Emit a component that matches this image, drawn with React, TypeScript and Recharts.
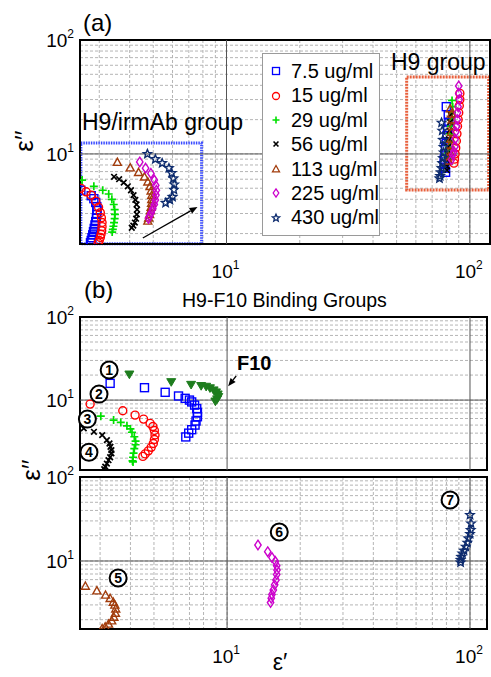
import React from "react";
import {
  CartesianGrid,
  Legend,
  ReferenceArea,
  ReferenceDot,
  ReferenceLine,
  Scatter,
  ScatterChart,
  XAxis,
  YAxis,
} from "recharts";

// Dielectric loss (ε'') vs permittivity (ε'), log-log, two panels.

type Pt = [number, number];
type Kind = "square" | "circle" | "plus" | "x" | "triUp" | "triDown" | "diamond" | "star";

const FONT = '"Liberation Sans", Arial, Helvetica, sans-serif';

const concentrations = ["7.5 ug/ml", "15 ug/ml", "29 ug/ml", "56 ug/ml", "113 ug/ml", "225 ug/ml", "430 ug/ml"];

// panel (a) – H9/irmAb group (left cluster), [ε', ε'']
const irm7_5: Pt[] = [[2.52, 4.8], [2.78, 4.3], [2.85, 4.05], [2.9, 3.75], [2.93, 3.45], [2.94, 3.2], [2.93, 2.95], [2.92, 2.75], [2.9, 2.55], [2.88, 2.38], [2.86, 2.22], [2.84, 2.08], [2.82, 1.95], [2.8, 1.84], [2.78, 1.74], [2.76, 1.66]];
const irm15: Pt[] = [[2.52, 5.0], [2.65, 4.65], [2.78, 4.35], [2.9, 3.85], [2.98, 3.4], [3.03, 3.05], [3.06, 2.75], [3.08, 2.5], [3.08, 2.3], [3.07, 2.12], [3.05, 1.97], [3.03, 1.85], [3.0, 1.74], [2.97, 1.66]];
const irm29: Pt[] = [[2.55, 5.9], [2.85, 5.2], [3.1, 4.8], [3.28, 4.45], [3.38, 4.0], [3.44, 3.6], [3.47, 3.25], [3.48, 2.95], [3.47, 2.7], [3.45, 2.5], [3.43, 2.32], [3.41, 2.18], [3.39, 2.06]];
const irm56: Pt[] = [[3.45, 6.3], [3.62, 6.0], [3.78, 5.6], [3.93, 5.2], [4.05, 4.8], [4.15, 4.35], [4.22, 3.95], [4.27, 3.6], [4.29, 3.25], [4.28, 2.95], [4.25, 2.7], [4.2, 2.5], [4.14, 2.35], [4.08, 2.25]];
const irm113: Pt[] = [[3.56, 8.46], [4.02, 7.58], [4.35, 6.9], [4.6, 6.3], [4.75, 5.7], [4.85, 5.2], [4.9, 4.75], [4.93, 4.35], [4.93, 4.0], [4.92, 3.7], [4.9, 3.42], [4.87, 3.18], [4.83, 2.95], [4.79, 2.75], [4.75, 2.58]];
const irm225: Pt[] = [[4.4, 8.5], [4.65, 7.5], [4.89, 6.75], [5.05, 5.9], [5.12, 5.3], [5.15, 4.8], [5.13, 4.35], [5.1, 3.95], [5.05, 3.6], [4.98, 3.3], [4.9, 3.05], [4.83, 2.85], [4.78, 2.72]];
const irm430: Pt[] = [[4.73, 10.0], [5.1, 9.0], [5.44, 8.3], [5.8, 7.5], [5.95, 6.8], [6.05, 6.1], [6.1, 5.4], [6.08, 4.85], [6.0, 4.2], [5.85, 3.95], [5.62, 3.72]];

// panel (a) – H9 group (right cluster)
const h9_7_5: Pt[] = [[80, 26], [81.5, 22], [82, 19], [81, 16.5], [80.5, 14.5], [80, 12.8], [79.5, 11.3], [79, 10], [78.5, 9], [78.5, 8.2], [79, 7.5], [79.5, 6.9]];
const h9_15: Pt[] = [[91, 34], [91, 30], [90.5, 26.5], [90, 23], [89.5, 20], [89, 17.5], [88.5, 15], [88, 13], [87.5, 11.3], [87, 10], [86.5, 9], [86, 8.3]];
const h9_29: Pt[] = [[84.5, 29.5], [85, 26], [84.5, 23], [84, 20], [83.5, 17.5], [83, 15], [82.5, 13], [82, 11.5], [81.5, 10.2], [81, 9.2]];
const h9_56: Pt[] = [[83.5, 22], [83, 19], [82.5, 16], [82, 13.5], [81.5, 11.5], [81, 10], [80.8, 8.8], [80.5, 7.8], [80.5, 7.2]];
const h9_113: Pt[] = [[83, 25], [84, 22.5], [84.5, 20], [84.5, 17.5], [84, 15.5], [83.5, 13.5], [83, 12], [82.5, 10.5], [82, 9.5], [81.5, 8.7]];
const h9_225: Pt[] = [[90, 39.5], [90, 34], [90.5, 30], [89.5, 26], [89, 23], [88.8, 20], [88.3, 17.5], [87.5, 15.6], [87, 13.5], [86.8, 11.6], [86, 10.5], [85, 9.8], [84, 8.9]];
const h9_430: Pt[] = [[76.5, 18.8], [77, 16], [77.5, 13.3], [78, 11.5], [78, 10.3], [77.5, 9.2], [77, 8.3], [76.5, 7.5], [76, 6.9], [75.5, 6.4], [75, 6.1]];

// panel (b) – binding groups 1..7 and F10
const grp1: Pt[] = [[3.3, 15.9], [4.57, 14.1], [5.56, 12.4], [6.31, 11.2], [6.72, 10.5], [7.0, 10.0], [7.15, 9.5], [7.35, 8.7], [7.5, 7.9], [7.55, 7.1], [7.55, 6.3], [7.45, 5.6], [7.38, 5.0], [7.15, 4.4], [6.95, 4.0], [6.76, 3.6]];
const f10: Pt[] = [[3.96, 20.5], [5.89, 16.6], [7.11, 15.4], [7.82, 14.9], [8.2, 14.6], [8.5, 14.0], [8.8, 13.2], [9.0, 12.5], [9.15, 11.8], [9.2, 11.0], [9.1, 10.3], [8.95, 9.7]];
const grp2: Pt[] = [[2.73, 8.95], [3.72, 7.43], [4.18, 6.59], [4.53, 5.9], [4.82, 5.24], [4.95, 4.8], [5.02, 4.3], [5.05, 3.8], [5.02, 3.35], [4.97, 3.0], [4.87, 2.7], [4.74, 2.45], [4.6, 2.25], [4.5, 2.1]];
const grp3: Pt[] = [[2.77, 6.59], [3.02, 6.4], [3.41, 5.74], [3.65, 5.39], [3.87, 4.9], [4.0, 4.5], [4.06, 4.1], [4.15, 3.62], [4.2, 3.2], [4.2, 2.9], [4.15, 2.6], [4.12, 2.3], [4.1, 2.05], [4.08, 1.85], [4.1, 1.8]];
const grp4: Pt[] = [[2.57, 4.56], [2.83, 4.15], [3.06, 3.79], [3.2, 3.3], [3.28, 3.0], [3.31, 2.74], [3.34, 2.5], [3.34, 2.28], [3.3, 2.05], [3.25, 1.89], [3.2, 1.72], [3.15, 1.58], [3.12, 1.47]];
const grp5: Pt[] = [[2.61, 5.04], [2.91, 4.43], [3.16, 3.94], [3.3, 3.6], [3.4, 3.25], [3.45, 3.0], [3.48, 2.7], [3.47, 2.4], [3.42, 2.15], [3.35, 1.95], [3.25, 1.78], [3.15, 1.65], [3.06, 1.57]];
const grp6: Pt[] = [[13.4, 15.5], [14.7, 12.9], [15.3, 11.0], [15.8, 9.9], [16.0, 8.8], [16.05, 7.8], [16.0, 6.9], [15.9, 5.94], [15.7, 5.2], [15.5, 4.52], [15.3, 4.0], [15.2, 3.6], [15.1, 3.2]];
const grp7: Pt[] = [[100, 35.3], [101, 28], [100.7, 23.4], [100, 21], [98.5, 18.6], [97.5, 16.5], [96, 14.8], [94.5, 13.3], [93, 12.3], [92, 11.2], [91.5, 10.3], [91.5, 9.6]];

// axes
const xTicks = [3, 4, 5, 6, 7, 8, 9, 10, 20, 30, 40, 50, 60, 70, 80, 90, 100];
const yTicks = [2, 3, 4, 5, 6, 7, 8, 9, 10, 20, 30, 40, 50, 60, 70, 80, 90, 100];
const xDomA: [number, number] = [2.5, 121];
const yDomA: [number, number] = [1.62, 100];
const xDomB: [number, number] = [2.48, 117.5];
const yDomB1: [number, number] = [1.44, 100];
const yDomB2: [number, number] = [1.55, 100];

const BLUE = "#0000ff";
const RED = "#ff0000";
const GREEN = "#00e000";
const BLACK = "#000000";
const BROWN = "#a23c0c";
const MAGENTA = "#cc00cc";
const NAVY = "#0d2b6e";
const DKGREEN = "#1e7d1e";

const styles: { kind: Kind; color: string }[] = [
  { kind: "square", color: BLUE },
  { kind: "circle", color: RED },
  { kind: "plus", color: GREEN },
  { kind: "x", color: BLACK },
  { kind: "triUp", color: BROWN },
  { kind: "diamond", color: MAGENTA },
  { kind: "star", color: NAVY },
];

const toXY = (a: Pt[]) => a.map(([x, y]) => ({ x, y }));

const irmSets = [irm7_5, irm15, irm29, irm56, irm113, irm225, irm430];
const h9Sets = [h9_7_5, h9_15, h9_29, h9_56, h9_113, h9_225, h9_430];
const aSeries = concentrations.map((name, i) => ({
  name,
  ...styles[i],
  data: toXY([...irmSets[i], ...h9Sets[i]]),
}));

function Marker({ kind, cx, cy, size, color, sw = 1.4 }: { kind: Kind; cx: number; cy: number; size: number; color: string; sw?: number }) {
  const h = size / 2;
  const line = { stroke: color, strokeWidth: sw, fill: "none" };
  switch (kind) {
    case "square":
      return <rect x={cx - h} y={cy - h} width={size} height={size} {...line} />;
    case "circle":
      return <circle cx={cx} cy={cy} r={h} {...line} />;
    case "plus":
      return <path d={`M${cx - h},${cy}H${cx + h}M${cx},${cy - h}V${cy + h}`} {...line} strokeWidth={sw + 0.3} />;
    case "x": {
      const k = h * 0.7;
      return <path d={`M${cx - k},${cy - k}L${cx + k},${cy + k}M${cx - k},${cy + k}L${cx + k},${cy - k}`} {...line} strokeWidth={sw + 0.3} />;
    }
    case "triUp":
      return <path d={`M${cx},${cy - h}L${cx + h},${cy + h * 0.8}L${cx - h},${cy + h * 0.8}Z`} {...line} />;
    case "triDown":
      return <path d={`M${cx - h},${cy - h * 0.7}L${cx + h},${cy - h * 0.7}L${cx},${cy + h}Z`} fill={color} stroke={color} />;
    case "diamond":
      return <path d={`M${cx},${cy - h * 1.2}L${cx + h * 0.8},${cy}L${cx},${cy + h * 1.2}L${cx - h * 0.8},${cy}Z`} {...line} />;
    case "star": {
      const R = h * 1.1;
      const pts = Array.from({ length: 10 }, (_, k) => {
        const r = k % 2 === 0 ? R : R * 0.45;
        const a = (-90 + k * 36) * (Math.PI / 180);
        return `${cx + r * Math.cos(a)},${cy + r * Math.sin(a)}`;
      });
      return <polygon points={pts.join(" ")} {...line} />;
    }
  }
  return null;
}

function PowTick(props: any) {
  const { x, y, payload, axis } = props;
  const e = Math.log10(payload.value);
  if (Math.abs(e - Math.round(e)) > 1e-6) return <g />;
  const txt = { fontFamily: FONT, fontSize: 19, fill: "#000" };
  if (axis === "x") {
    return (
      <text x={x - 1} y={y + 26} textAnchor="middle" {...txt}>
        10<tspan dy={-9} fontSize={12}>{Math.round(e)}</tspan>
      </text>
    );
  }
  return (
    <text x={x + 2} y={y + 7} textAnchor="end" {...txt}>
      10<tspan dy={-9} fontSize={12}>{Math.round(e)}</tspan>
    </text>
  );
}

function Arrow(p: any) {
  const { x1, y1, x2, y2 } = p;
  const a = Math.atan2(y2 - y1, x2 - x1);
  const L = 8;
  const W = 3.2;
  const bx = x2 - L * Math.cos(a);
  const by = y2 - L * Math.sin(a);
  const nx = -Math.sin(a) * W;
  const ny = Math.cos(a) * W;
  return (
    <g>
      <line x1={x1} y1={y1} x2={bx} y2={by} stroke="#000" strokeWidth={1.3} />
      <polygon points={`${x2},${y2} ${bx + nx},${by + ny} ${bx - nx},${by - ny}`} fill="#000" />
    </g>
  );
}

function Circled({ cx, cy, n }: { cx: number; cy: number; n: number }) {
  return (
    <g>
      <circle cx={cx} cy={cy} r={8.5} fill="#fff" stroke="#000" strokeWidth={2} />
      <text x={cx} y={cy + 5} textAnchor="middle" fontFamily={FONT} fontSize={14} fontWeight="bold">
        {n}
      </text>
    </g>
  );
}

// legend keeps the concentration order (Recharts sorts payload by name)
function LegendBox() {
  return (
    <div
      style={{
        border: "1px solid #9a9a9a",
        background: "#fff",
        width: 116,
        padding: "5px 0 5px 0",
        fontFamily: FONT,
        fontSize: 20,
        lineHeight: "24.4px",
      }}
    >
      {aSeries.map((s) => (
        <div key={s.name} style={{ display: "flex", alignItems: "center", height: 24.4 }}>
          <svg width={28} height={20} style={{ flex: "none" }}>
            <Marker kind={s.kind} cx={13} cy={10} size={7} color={s.color} sw={1.3} />
          </svg>
          <span style={{ whiteSpace: "nowrap" }}>{s.name}</span>
        </div>
      ))}
    </div>
  );
}

function frame(xd: [number, number], yd: [number, number]) {
  return (
    <ReferenceArea x1={xd[0]} x2={xd[1]} y1={yd[0]} y2={yd[1]} fill="none" stroke="#000" strokeWidth={2} ifOverflow="visible" />
  );
}

function majors() {
  return [
    <ReferenceLine key="vx10" x={10} stroke="#555" strokeWidth={1} />,
    <ReferenceLine key="vx100" x={100} stroke="#555" strokeWidth={1} />,
    <ReferenceLine key="hy10" y={10} stroke="#555" strokeWidth={1} />,
  ];
}

const gridProps = { stroke: "#b5b5b5", strokeDasharray: "3 2", strokeWidth: 1 };

function ChartA() {
  return (
    <ScatterChart width={491} height={290} margin={{ top: 40, right: 1, bottom: 6, left: 0 }}>
      <CartesianGrid {...gridProps} />
      {majors()}
      <XAxis
        type="number"
        dataKey="x"
        scale="log"
        domain={xDomA}
        allowDataOverflow
        ticks={xTicks}
        interval={0}
        height={40}
        axisLine={false}
        tickLine={false}
        tick={(p: any) => <PowTick {...p} axis="x" />}
      />
      <YAxis
        type="number"
        dataKey="y"
        scale="log"
        domain={yDomA}
        allowDataOverflow
        ticks={yTicks}
        interval={0}
        width={80}
        axisLine={false}
        tickLine={false}
        tick={(p: any) => <PowTick {...p} axis="y" />}
      />
      <ReferenceArea x1={2.52} x2={7.9} y1={1.63} y2={12.5} fill="none" stroke="#3b4cff" strokeWidth={3} strokeDasharray="1.5 1" ifOverflow="visible" />
      <ReferenceArea x1={55} x2={119.5} y1={4.83} y2={47.3} fill="none" stroke="#e8603c" strokeWidth={3} strokeDasharray="2 1" ifOverflow="visible" />
      {aSeries.map((s) => (
        <Scatter
          key={s.name}
          name={s.name}
          data={s.data}
          fill={s.color}
          isAnimationActive={false}
          shape={(p: any) => <Marker kind={s.kind} cx={p.cx} cy={p.cy} size={8} color={s.color} />}
        />
      ))}
      <ReferenceLine
        segment={[
          { x: 4.53, y: 1.83 },
          { x: 7.6, y: 3.43 },
        ]}
        ifOverflow="visible"
        shape={(p: any) => <Arrow {...p} />}
      />
      {frame(xDomA, yDomA)}
      <Legend
        layout="vertical"
        align="center"
        verticalAlign="middle"
        content={<LegendBox />}
        wrapperStyle={{ left: 262, top: 53, width: 118 }}
      />
    </ScatterChart>
  );
}

const bTopSeries = [
  { name: "1", kind: "square" as Kind, color: BLUE, data: toXY(grp1) },
  { name: "F10", kind: "triDown" as Kind, color: DKGREEN, data: toXY(f10) },
  { name: "2", kind: "circle" as Kind, color: RED, data: toXY(grp2) },
  { name: "3", kind: "plus" as Kind, color: GREEN, data: toXY(grp3) },
  { name: "4", kind: "x" as Kind, color: BLACK, data: toXY(grp4) },
];
const bBotSeries = [
  { name: "5", kind: "triUp" as Kind, color: BROWN, data: toXY(grp5) },
  { name: "6", kind: "diamond" as Kind, color: MAGENTA, data: toXY(grp6) },
  { name: "7", kind: "star" as Kind, color: NAVY, data: toXY(grp7) },
];

function logX(showLabels: boolean) {
  return (
    <XAxis
      type="number"
      dataKey="x"
      scale="log"
      domain={xDomB}
      allowDataOverflow
      ticks={xTicks}
      interval={0}
      height={showLabels ? 40 : 0}
      axisLine={false}
      tickLine={false}
      tick={showLabels ? (p: any) => <PowTick {...p} axis="x" /> : false}
    />
  );
}

function logY(dom: [number, number]) {
  return (
    <YAxis
      type="number"
      dataKey="y"
      scale="log"
      domain={dom}
      allowDataOverflow
      ticks={yTicks}
      interval={0}
      width={80}
      axisLine={false}
      tickLine={false}
      tick={(p: any) => <PowTick {...p} axis="y" />}
    />
  );
}

function ChartB1() {
  return (
    <ScatterChart width={491} height={195} margin={{ top: 37, right: 4, bottom: 5, left: 0 }}>
      <CartesianGrid {...gridProps} />
      {majors()}
      {logX(false)}
      {logY(yDomB1)}
      {bTopSeries.map((s) => (
        <Scatter
          key={s.name}
          name={s.name}
          data={s.data}
          fill={s.color}
          isAnimationActive={false}
          shape={(p: any) => <Marker kind={s.kind} cx={p.cx} cy={p.cy} size={s.kind === "triDown" ? 9 : 8} color={s.color} />}
        />
      ))}
      <ReferenceLine
        segment={[
          { x: 10.9, y: 19.5 },
          { x: 10.1, y: 14.7 },
        ]}
        ifOverflow="visible"
        shape={(p: any) => <Arrow {...p} />}
      />
      <ReferenceDot x={3.27} y={23} ifOverflow="visible" shape={(p: any) => <Circled cx={p.cx} cy={p.cy} n={1} />} />
      <ReferenceDot x={2.97} y={11.8} ifOverflow="visible" shape={(p: any) => <Circled cx={p.cx} cy={p.cy} n={2} />} />
      <ReferenceDot x={2.66} y={5.9} ifOverflow="visible" shape={(p: any) => <Circled cx={p.cx} cy={p.cy} n={3} />} />
      <ReferenceDot x={2.7} y={2.36} ifOverflow="visible" shape={(p: any) => <Circled cx={p.cx} cy={p.cy} n={4} />} />
      {frame(xDomB, yDomB1)}
    </ScatterChart>
  );
}

function ChartB2() {
  return (
    <ScatterChart width={491} height={230} margin={{ top: 30, right: 4, bottom: 8, left: 0 }}>
      <CartesianGrid {...gridProps} />
      {majors()}
      {logX(true)}
      {logY(yDomB2)}
      {bBotSeries.map((s) => (
        <Scatter
          key={s.name}
          name={s.name}
          data={s.data}
          fill={s.color}
          isAnimationActive={false}
          shape={(p: any) => <Marker kind={s.kind} cx={p.cx} cy={p.cy} size={8} color={s.color} />}
        />
      ))}
      <ReferenceDot x={3.56} y={6.28} ifOverflow="visible" shape={(p: any) => <Circled cx={p.cx} cy={p.cy} n={5} />} />
      <ReferenceDot x={16.4} y={22.1} ifOverflow="visible" shape={(p: any) => <Circled cx={p.cx} cy={p.cy} n={6} />} />
      <ReferenceDot x={82.8} y={53.2} ifOverflow="visible" shape={(p: any) => <Circled cx={p.cx} cy={p.cy} n={7} />} />
      {frame(xDomB, yDomB2)}
    </ScatterChart>
  );
}

export default function App() {
  const t = { fontFamily: FONT, fill: "#000" };
  return (
    <div style={{ position: "absolute", left: 0, top: 0, width: 491, height: 677, background: "#fff", overflow: "hidden" }}>
      <div style={{ position: "absolute", left: 0, top: 0 }}>
        <ChartA />
      </div>
      <div style={{ position: "absolute", left: 0, top: 280 }}>
        <ChartB1 />
      </div>
      <div style={{ position: "absolute", left: 0, top: 447 }}>
        <ChartB2 />
      </div>
      <svg width={491} height={677} style={{ position: "absolute", left: 0, top: 0, pointerEvents: "none" }}>
        <text x={83} y={31} fontSize={24} {...t}>(a)</text>
        <text x={33} y={141} fontSize={26} textAnchor="middle" transform="rotate(-90 33 141)" {...t}>ε′′</text>
        <text x={82} y={129.5} fontSize={23} {...t}>H9/irmAb group</text>
        <text x={391} y={69.5} fontSize={23} {...t}>H9 group</text>
        <text x={84} y={298} fontSize={24} {...t}>(b)</text>
        <text x={182} y={306.5} fontSize={19.5} {...t}>H9-F10 Binding Groups</text>
        <text x={237} y={370} fontSize={20} fontWeight="bold" {...t}>F10</text>
        <text x={40} y={470} fontSize={26} textAnchor="middle" transform="rotate(-90 40 470)" {...t}>ε′′</text>
        <text x={280} y={670} fontSize={23} textAnchor="middle" {...t}>ε′</text>
      </svg>
    </div>
  );
}
